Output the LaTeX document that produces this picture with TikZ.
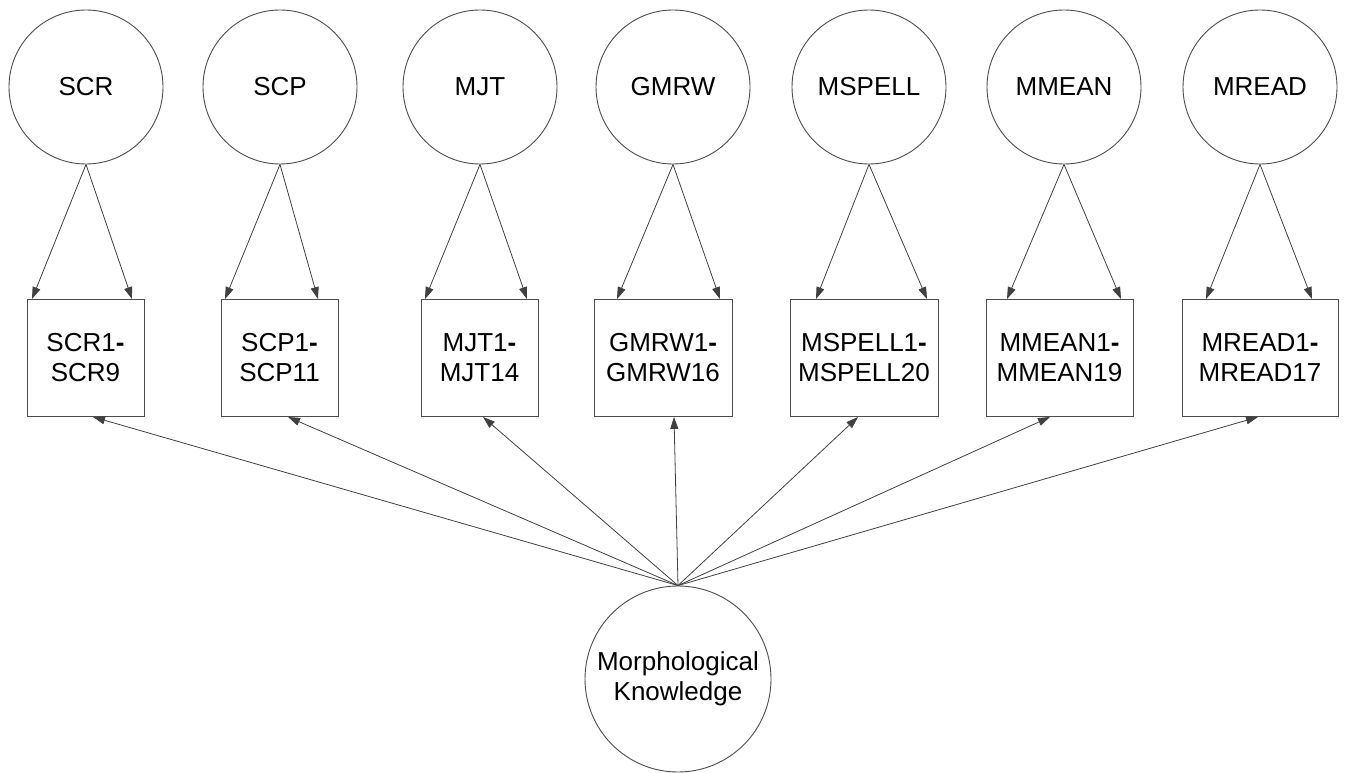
\documentclass[tikz,border=0pt]{standalone}
\usepackage{fontspec}
\setmainfont{Liberation Sans}
\usetikzlibrary{arrows.meta}
\begin{document}
\begin{tikzpicture}[x=1pt,y=-1pt,
 lat/.style={circle,draw=black!70,line width=0.9pt,minimum size=154pt,inner sep=0pt,font=\fontsize{26}{30}\selectfont},
 big/.style={circle,draw=black!70,line width=0.9pt,minimum size=186pt,inner sep=0pt,align=center,font=\fontsize{26}{30}\selectfont},
 obs/.style={rectangle,draw=black!70,line width=0.9pt,minimum height=117pt,inner sep=0pt,align=center,font=\fontsize{26}{30}\selectfont},
 arr/.style={draw=black!75,line width=0.8pt,-{Triangle[length=12pt,width=8pt]}}]
\useasboundingbox (0,0) rectangle (1347,773);
% latent circles
\node[lat] (c1) at (86,87) {SCR};
\node[lat] (c2) at (280,87) {SCP};
\node[lat] (c3) at (480,87) {MJT};
\node[lat] (c4) at (673,87) {GMRW};
\node[lat] (c5) at (869,87) {MSPELL};
\node[lat] (c6) at (1064,87) {MMEAN};
\node[lat] (c7) at (1260,87) {MREAD};
% observed boxes
\node[obs,minimum width=117pt] (b1) at (85.5,358) {SCR1{\bfseries -}\\SCR9};
\node[obs,minimum width=117pt] (b2) at (279.5,358) {SCP1{\bfseries -}\\SCP11};
\node[obs,minimum width=117pt] (b3) at (479.5,358) {MJT1{\bfseries -}\\MJT14};
\node[obs,minimum width=138pt] (b4) at (663,358) {GMRW1{\bfseries -}\\GMRW16};
\node[obs,minimum width=148pt] (b5) at (864,358) {MSPELL1{\bfseries -}\\MSPELL20};
\node[obs,minimum width=147pt] (b6) at (1059.5,358) {MMEAN1{\bfseries -}\\MMEAN19};
\node[obs,minimum width=156pt] (b7) at (1260,358) {MREAD1{\bfseries -}\\MREAD17};
% general factor
\node[big] (mk) at (678,679) {Morphological\\Knowledge};
% loadings
\foreach \i/\l/\r/\b in {1/-53.5/46.5/7.5, 2/-54.5/38.5/8.5, 3/-54.5/47.5/3.5, 4/-46/57/11, 5/-48/63/-6, 6/-52.5/61.5/-9.5, 7/-54/52/-2}{
  \draw[arr] (c\i.south) -- ([xshift=\l pt]b\i.north);
  \draw[arr] (c\i.south) -- ([xshift=\r pt]b\i.north);
  \draw[arr] (mk.north) -- ([xshift=\b pt]b\i.south);
}
\end{tikzpicture}
\end{document}
